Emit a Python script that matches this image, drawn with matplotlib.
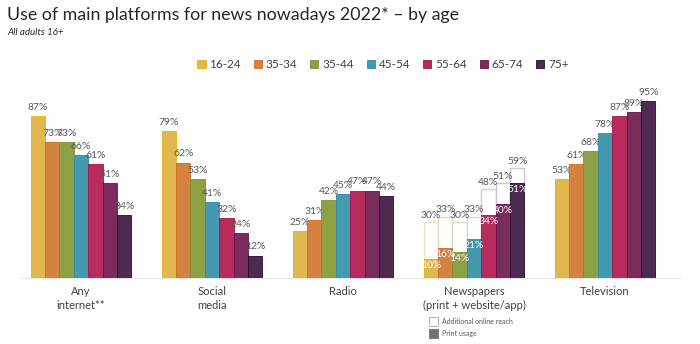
import matplotlib.pyplot as plt
import numpy as np
from matplotlib.patches import Rectangle

plt.rcParams['font.family'] = ['Lato', 'DejaVu Sans']

# Data
categories = ['Any\ninternet**', 'Social\nmedia', 'Radio', 'Newspapers\n(print + website/app)', 'Television']
age_groups = ['16-24', '35-34', '35-44', '45-54', '55-64', '65-74', '75+']
any_internet = [87, 73, 73, 66, 61, 51, 34]
social_media = [79, 62, 53, 41, 32, 24, 12]
radio = [25, 31, 42, 45, 47, 47, 44]
newspapers_total = [30, 33, 30, 33, 48, 51, 59]
newspapers_print = [10, 16, 14, 21, 34, 40, 51]
television = [53, 61, 68, 78, 87, 89, 95]

colors = ['#E0B84F', '#D58142', '#8EA044', '#469AAF', '#B72B5E', '#7A2C5D', '#4E2A52']
edge_colors = ['#E8AF10', '#D06A1A', '#7C9030', '#2F8BA3', '#A8104A', '#66104A', '#2A0A30']
light_edges = ['#F3E3B8', '#F3D2BC', '#D8E0C2', '#C3DFE8', '#EBC0D0', '#D9C0D2', '#D2C6D6']

label_color = '#595959'
width = 0.11

fig = plt.figure(figsize=(7, 3.44), dpi=100)
ax = fig.add_axes([0.0286, 0.1919, 0.943, 0.541])

x = np.arange(len(categories))
offsets = (np.arange(len(age_groups)) - 3) * width

series = [any_internet, social_media, radio, None, television]
for i, values in enumerate(series):
    for j, age in enumerate(age_groups):
        xpos = x[i] + offsets[j]
        if values is None:
            # newspapers: outline bar for total reach, filled bar for print
            ax.bar(xpos, newspapers_total[j], width, color='white',
                   edgecolor=light_edges[j], linewidth=1.0, zorder=2)
            ax.bar(xpos, newspapers_print[j], width, color=colors[j],
                   edgecolor=edge_colors[j], linewidth=0.6, zorder=3)
            ax.annotate(f'{newspapers_total[j]}%', (xpos, newspapers_total[j]),
                        xytext=(0, 1.5), textcoords='offset points',
                        ha='center', va='bottom', fontsize=7.5, color=label_color)
            ax.annotate(f'{newspapers_print[j]}%', (xpos, newspapers_print[j]),
                        xytext=(0, -1.5), textcoords='offset points',
                        ha='center', va='top', fontsize=7.5, color='white', zorder=4)
        else:
            ax.bar(xpos, values[j], width, color=colors[j],
                   edgecolor=edge_colors[j], linewidth=0.6, zorder=3,
                   label=age if i == 0 else None)
            ax.annotate(f'{values[j]}%', (xpos, values[j]),
                        xytext=(0, 3), textcoords='offset points',
                        ha='center', va='bottom', fontsize=7.5, color=label_color)

ax.set_xlim(-0.466, 4.573)
ax.set_ylim(0, 100)
ax.set_yticks([])
ax.set_xticks(x)
ax.set_xticklabels(categories, fontsize=8, color='#404040', linespacing=1.25)
ax.tick_params(axis='x', length=0, pad=6)
for side in ['top', 'right', 'left']:
    ax.spines[side].set_visible(False)
ax.spines['bottom'].set_color('#E6E6E6')
ax.spines['bottom'].set_linewidth(0.8)

fig.text(0.01, 0.955, 'Use of main platforms for news nowadays 2022* \u2013 by age',
         fontsize=12.8, color='#262626', va='center')
fig.text(0.01, 0.905, 'All adults 16+', fontsize=7, style='italic',
         color='#262626', va='center')

ax.legend(loc='center', ncol=7, frameon=False, fontsize=8.5, handlelength=0.7,
          handleheight=0.7, handletextpad=0.3, columnspacing=1.1, labelcolor='#404040')
leg = ax.get_legend()
leg.set_bbox_to_anchor((0.547, 0.812), transform=fig.transFigure)

# small key for the newspapers bars
fig.patches.append(Rectangle((0.613, 0.053), 0.012, 0.026, transform=fig.transFigure,
                             facecolor='white', edgecolor='#A6A6A6', linewidth=0.6))
fig.patches.append(Rectangle((0.613, 0.017), 0.012, 0.026, transform=fig.transFigure,
                             facecolor='#767171', edgecolor='#767171', linewidth=0.6))
fig.text(0.632, 0.066, 'Additional online reach', fontsize=5, color='#595959', va='center')
fig.text(0.632, 0.030, 'Print usage', fontsize=5, color='#595959', va='center')

fig.savefig('out.png', dpi=100)
